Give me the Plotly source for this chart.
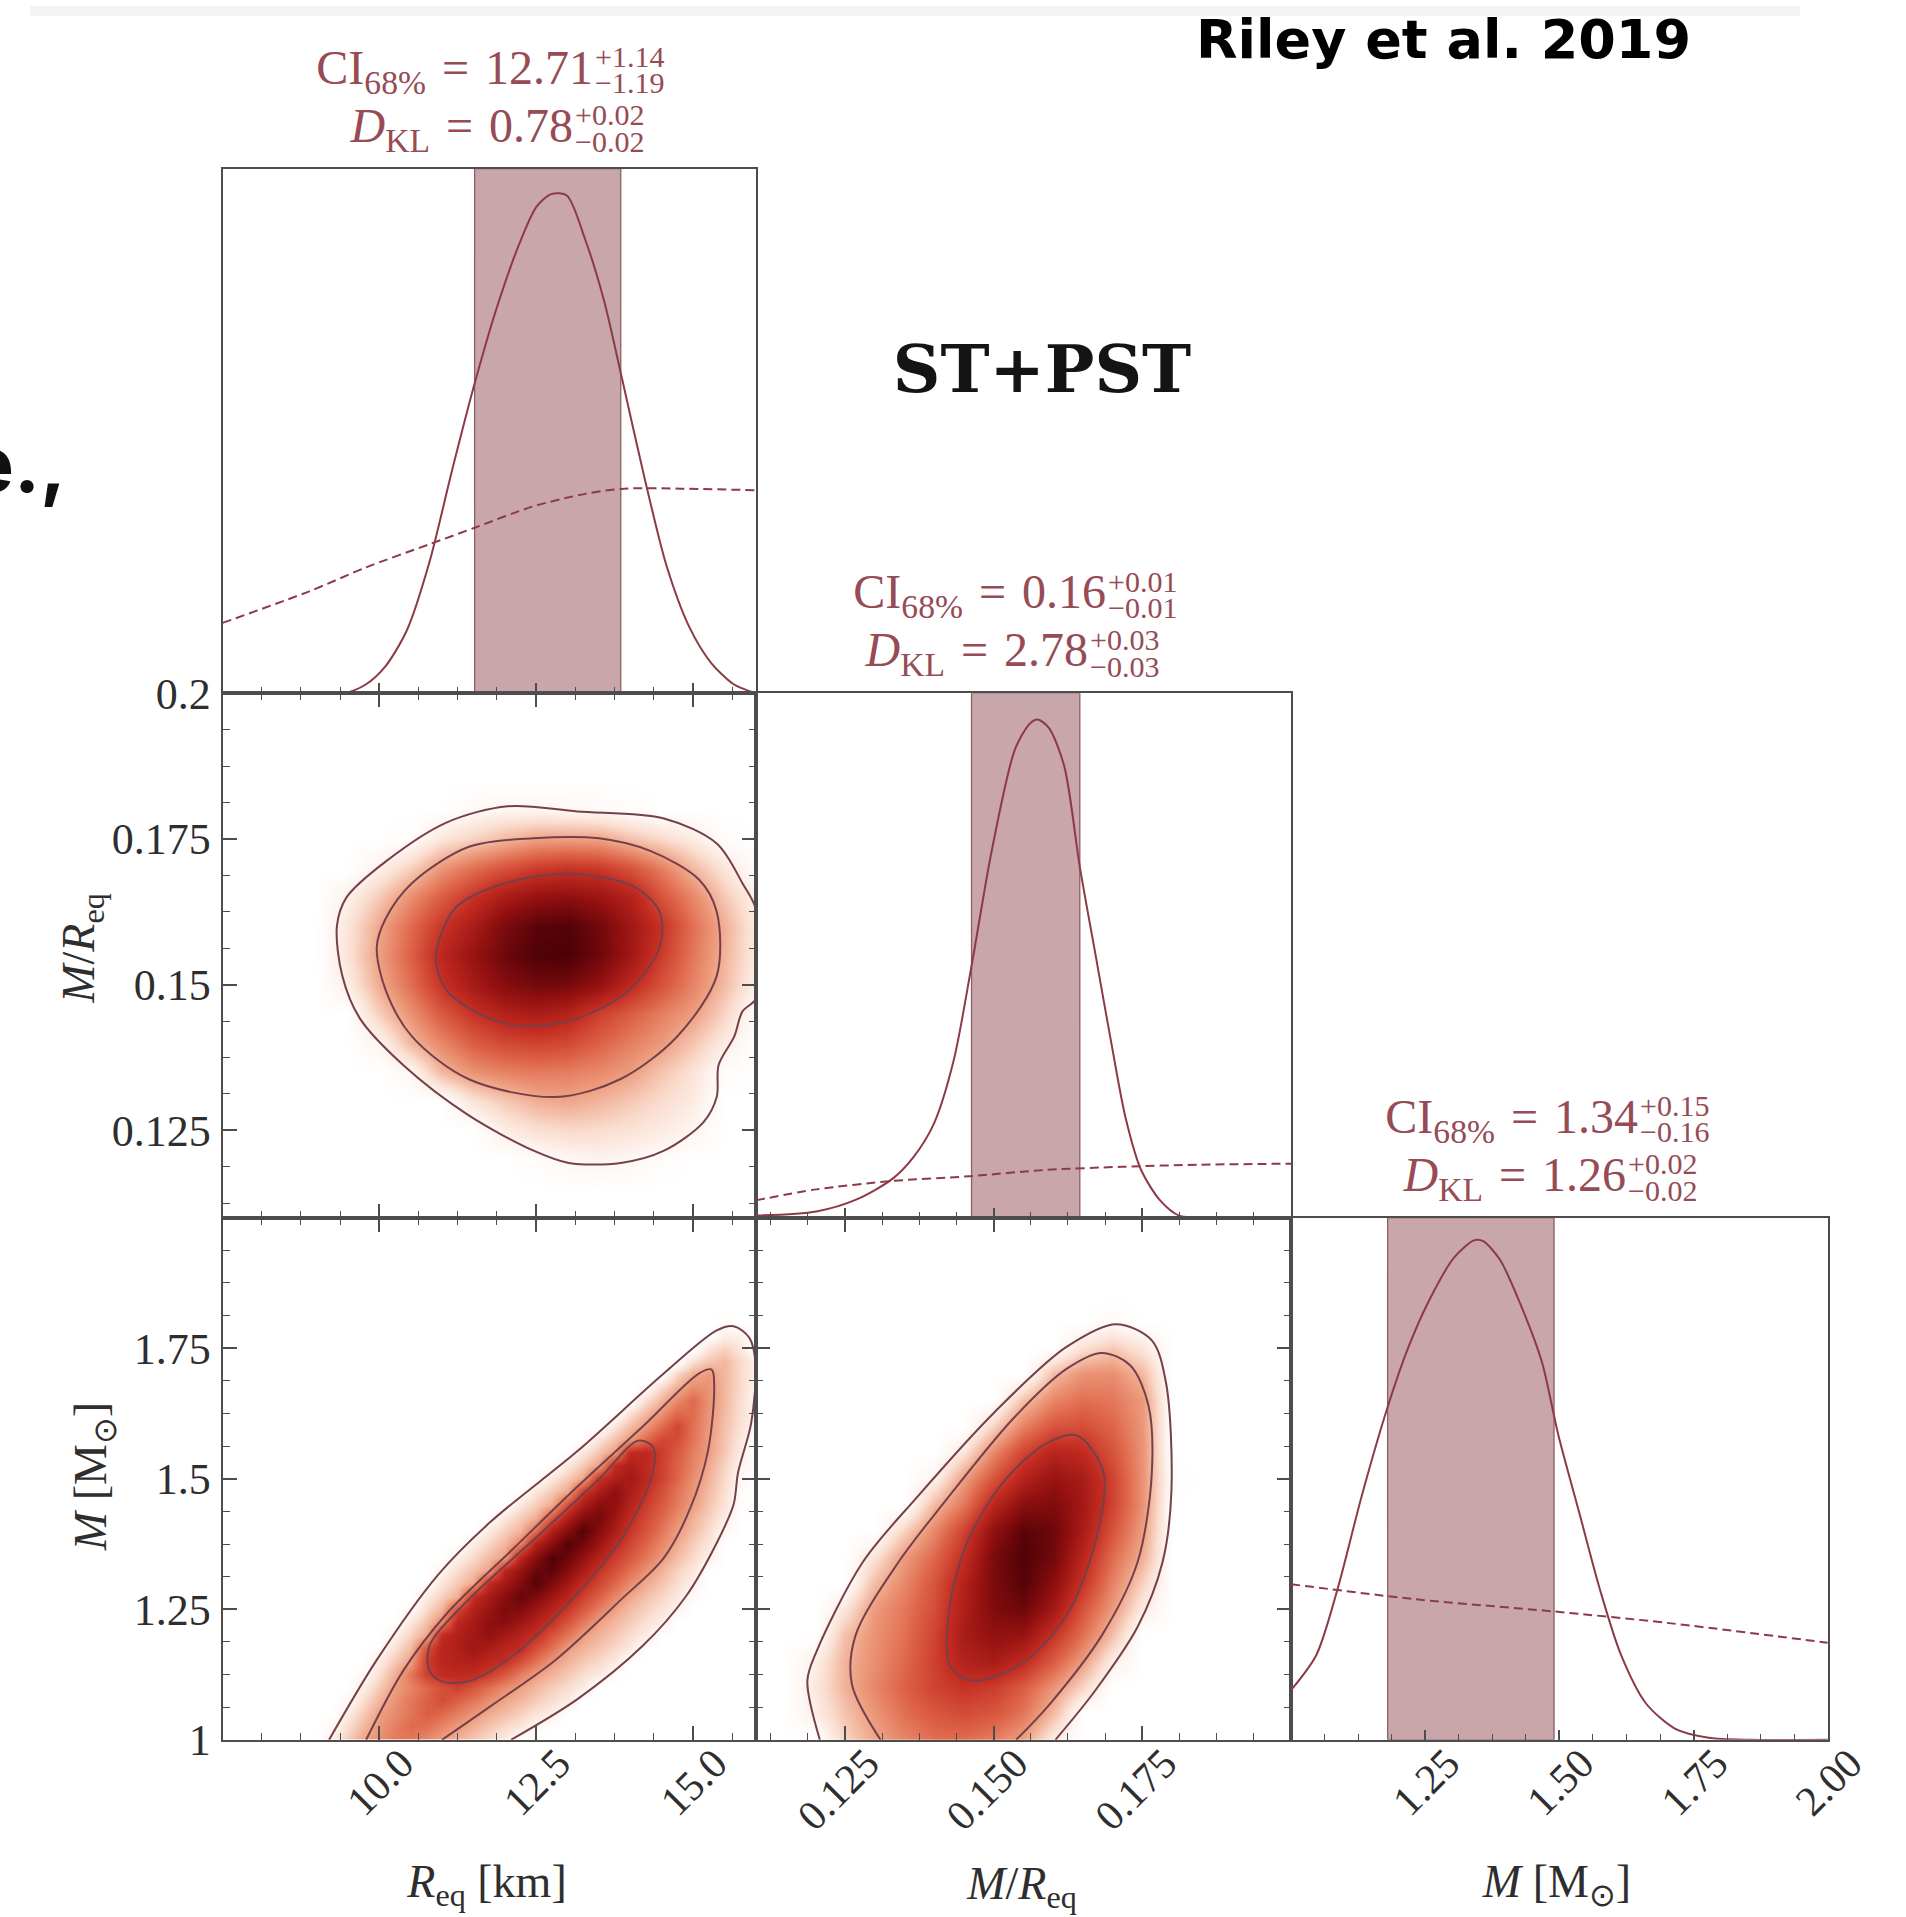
import plotly.graph_objects as go

W, H = 1906, 1917
SERIF = "Liberation Serif"

# ---------------- axis ranges and tick labels ----------------
R_RANGE = [7.5, 16.0]
C_RANGE = [0.11, 0.20]
M_RANGE = [1.0, 2.0]

R_TICKS = [10.0, 12.5, 15.0]
R_TICKTEXT = ["10.0", "12.5", "15.0"]
C_TICKS_X = [0.125, 0.150, 0.175]
C_TICKTEXT_X = ["0.125", "0.150", "0.175"]
C_TICKS_Y = [0.125, 0.15, 0.175, 0.2]
C_TICKTEXT_Y = ["0.125", "0.15", "0.175", "0.2"]
M_TICKS_X = [1.25, 1.5, 1.75, 2.0]
M_TICKTEXT_X = ["1.25", "1.50", "1.75", "2.00"]
M_TICKS_Y = [1.0, 1.25, 1.5, 1.75]
M_TICKTEXT_Y = ["1", "1.25", "1.5", "1.75"]

# ---------------- 1-D marginal posteriors (solid) and priors (dashed) ----------------
R_POST_X = [7.5, 8.5, 9.44, 9.79, 10.09, 10.44, 10.8, 11.15, 11.51, 11.86, 12.22, 12.51, 12.75,
            12.99, 13.28, 13.58, 13.87, 14.23, 14.58, 14.94, 15.29, 15.65, 16.0]
R_POST_Y = [0.0, 0.0, 0.0, 0.017, 0.05, 0.12, 0.25, 0.42, 0.586, 0.73, 0.853, 0.928, 0.952,
            0.949, 0.866, 0.75, 0.6, 0.41, 0.243, 0.127, 0.058, 0.017, 0.0]
R_PRIOR_X = [7.5, 8.9, 9.79, 10.8, 11.51, 12.45, 13.28, 13.9, 14.8, 16.0]
R_PRIOR_Y = [0.134, 0.195, 0.24, 0.284, 0.315, 0.356, 0.38, 0.39, 0.39, 0.387]

C_POST_X = [0.11, 0.1202, 0.127, 0.133, 0.1365, 0.14, 0.1433, 0.1463, 0.1497, 0.1536, 0.1561,
            0.1574, 0.1593, 0.1619, 0.1645, 0.1671, 0.1697, 0.1722, 0.1748, 0.178, 0.1812, 0.19, 0.2]
C_POST_Y = [0.004, 0.012, 0.035, 0.074, 0.115, 0.18, 0.3, 0.48, 0.7, 0.893, 0.942, 0.95,
            0.934, 0.86, 0.669, 0.504, 0.339, 0.19, 0.091, 0.033, 0.004, 0.0, 0.0]
C_PRIOR_X = [0.11, 0.1202, 0.133, 0.1459, 0.1587, 0.1715, 0.1844, 0.2]
C_PRIOR_Y = [0.033, 0.054, 0.07, 0.079, 0.091, 0.097, 0.101, 0.103]

M_POST_X = [1.0, 1.047, 1.086, 1.132, 1.179, 1.218, 1.257, 1.304, 1.342, 1.358, 1.389, 1.428,
            1.467, 1.498, 1.537, 1.576, 1.615, 1.661, 1.716, 1.778, 1.856, 2.0]
M_POST_Y = [0.095, 0.162, 0.286, 0.468, 0.634, 0.75, 0.841, 0.924, 0.957, 0.955, 0.92, 0.833,
            0.725, 0.584, 0.435, 0.286, 0.162, 0.07, 0.021, 0.004, 0.0, 0.0]
M_PRIOR_X = [1.0, 1.233, 1.488, 1.7, 2.0]
M_PRIOR_Y = [0.298, 0.269, 0.246, 0.224, 0.186]

# ---------------- credible intervals and KL divergences ----------------
CI_MEDIAN = [12.71, 0.1554, 1.34]
CI_PLUS = [1.14, 0.0091, 0.15]
CI_MINUS = [1.19, 0.0091, 0.16]
DKL = [0.78, 2.78, 1.26]
DKL_PLUS = [0.02, 0.03, 0.02]
DKL_MINUS = [0.02, 0.03, 0.02]

# ---------------- 2-D posterior density (relative) ----------------
GRID_R = [8.5, 9.0, 9.5, 10.0, 10.5, 11.0, 11.5, 12.0, 12.5, 13.0, 13.5, 14.0, 14.5, 15.0, 15.5, 16.0]
GRID_C_Y = [0.115, 0.12, 0.125, 0.13, 0.135, 0.14, 0.145, 0.15, 0.155, 0.16, 0.165, 0.17, 0.175,
            0.18, 0.185]
GRID_C_X = [0.115, 0.12, 0.125, 0.13, 0.135, 0.14, 0.145, 0.15, 0.155, 0.16, 0.165, 0.17, 0.175,
            0.18, 0.185]
GRID_M = [1.0, 1.05, 1.1, 1.15, 1.2, 1.25, 1.3, 1.35, 1.4, 1.45, 1.5, 1.55, 1.6, 1.65, 1.7, 1.75,
          1.8, 1.85]
GRID_R_FINE = [9.0, 9.25, 9.5, 9.75, 10.0, 10.25, 10.5, 10.75, 11.0, 11.25, 11.5, 11.75, 12.0,
               12.25, 12.5, 12.75, 13.0, 13.25, 13.5, 13.75, 14.0, 14.25, 14.5, 14.75, 15.0, 15.25,
               15.5, 15.75, 16.0]
GRID_M_FINE = [1.0, 1.025, 1.05, 1.075, 1.1, 1.125, 1.15, 1.175, 1.2, 1.225, 1.25, 1.275, 1.3,
               1.325, 1.35, 1.375, 1.4, 1.425, 1.45, 1.475, 1.5, 1.525, 1.55, 1.575, 1.6, 1.625,
               1.65, 1.675, 1.7, 1.725, 1.75, 1.775, 1.8, 1.825]

# radius (columns) vs compactness (rows)
Z_RC = [
    [0, 0, 0, 0, 0, 0, 0, 0, 0, 0, 0, 0, 0, 0, 0, 0],
    [0, 0, 0, 0, 0, 0, 0, 0, 0.02, 0.05, 0.07, 0.05, 0.02, 0, 0, 0],
    [0, 0, 0, 0, 0, 0, 0, 0.09, 0.14, 0.16, 0.15, 0.13, 0.1, 0.06, 0, 0],
    [0, 0, 0, 0, 0, 0, 0.13, 0.2, 0.26, 0.28, 0.25, 0.2, 0.15, 0.1, 0, 0],
    [0, 0, 0, 0, 0.05, 0.24, 0.33, 0.37, 0.39, 0.38, 0.35, 0.3, 0.21, 0.13, 0.02, 0],
    [0, 0, 0, 0.06, 0.24, 0.36, 0.47, 0.53, 0.55, 0.53, 0.46, 0.38, 0.31, 0.21, 0.1, 0],
    [0, 0, 0, 0.19, 0.33, 0.48, 0.6, 0.68, 0.71, 0.67, 0.56, 0.47, 0.38, 0.3, 0.17, 0.02],
    [0, 0, 0.09, 0.27, 0.42, 0.6, 0.73, 0.83, 0.88, 0.87, 0.79, 0.64, 0.5, 0.37, 0.23, 0.08],
    [0, 0, 0.13, 0.3, 0.46, 0.65, 0.78, 0.9, 0.98, 0.99, 0.9, 0.75, 0.57, 0.4, 0.25, 0.1],
    [0, 0, 0.12, 0.28, 0.43, 0.59, 0.72, 0.86, 0.95, 0.97, 0.89, 0.75, 0.6, 0.42, 0.26, 0.1],
    [0, 0, 0.08, 0.2, 0.34, 0.47, 0.6, 0.72, 0.79, 0.81, 0.77, 0.68, 0.5, 0.36, 0.2, 0.08],
    [0, 0, 0, 0.08, 0.18, 0.32, 0.42, 0.5, 0.57, 0.6, 0.58, 0.5, 0.38, 0.24, 0.12, 0.02],
    [0, 0, 0, 0, 0.02, 0.12, 0.18, 0.24, 0.29, 0.3, 0.29, 0.22, 0.16, 0.1, 0.02, 0],
    [0, 0, 0, 0, 0, 0, 0.04, 0.06, 0.06, 0.05, 0.04, 0.02, 0, 0, 0, 0],
    [0, 0, 0, 0, 0, 0, 0, 0, 0, 0, 0, 0, 0, 0, 0, 0],
]

# radius (columns, fine grid) vs mass (rows, fine grid)
Z_RM = [
    [0, 0.10, 0.19, 0.29, 0.34, 0.39, 0.40, 0.35, 0.30, 0.25, 0.20, 0.15, 0.10] + [0] * 16,
    [0, 0.04, 0.15, 0.24, 0.32, 0.38, 0.43, 0.42, 0.36, 0.31, 0.26, 0.21, 0.16, 0.12, 0.05] + [0] * 14,
    [0, 0, 0.10, 0.20, 0.30, 0.35, 0.41, 0.47, 0.44, 0.38, 0.32, 0.27, 0.23, 0.18, 0.13, 0.09] + [0] * 13,
    [0, 0, 0.04, 0.15, 0.25, 0.33, 0.40, 0.46, 0.52, 0.46, 0.40, 0.34, 0.28, 0.24, 0.19, 0.15,
     0.10] + [0] * 12,
    [0, 0, 0, 0.10, 0.20, 0.30, 0.37, 0.44, 0.51, 0.56, 0.49, 0.42, 0.35, 0.29, 0.24, 0.19, 0.15,
     0.10] + [0] * 11,
    [0, 0, 0, 0.03, 0.15, 0.26, 0.40, 0.56, 0.63, 0.64, 0.63, 0.57, 0.48, 0.38, 0.30, 0.25, 0.20,
     0.15, 0.11, 0.02] + [0] * 9,
    [0, 0, 0, 0, 0.10, 0.20, 0.30, 0.57, 0.65, 0.68, 0.69, 0.65, 0.61, 0.51, 0.41, 0.31, 0.25,
     0.20, 0.16, 0.11] + [0] * 9,
    [0, 0, 0, 0, 0.03, 0.14, 0.24, 0.51, 0.66, 0.70, 0.75, 0.71, 0.66, 0.62, 0.51, 0.41, 0.30,
     0.25, 0.21, 0.16, 0.11] + [0] * 8,
    [0, 0, 0, 0, 0, 0.08, 0.18, 0.28, 0.63, 0.69, 0.75, 0.79, 0.73, 0.67, 0.61, 0.50, 0.40, 0.30,
     0.25, 0.20, 0.15, 0.10] + [0] * 7,
    [0, 0, 0, 0, 0, 0, 0.12, 0.22, 0.36, 0.66, 0.73, 0.81, 0.82, 0.75, 0.68, 0.60, 0.49, 0.39,
     0.29, 0.24, 0.19, 0.14, 0.09] + [0] * 6,
    [0, 0, 0, 0, 0, 0, 0.03, 0.16, 0.25, 0.53, 0.69, 0.77, 0.86, 0.84, 0.76, 0.67, 0.58, 0.48,
     0.38, 0.29, 0.23, 0.18, 0.13, 0.07] + [0] * 5,
    [0, 0, 0, 0, 0, 0, 0, 0.10, 0.18, 0.26, 0.63, 0.72, 0.82, 0.91, 0.85, 0.76, 0.66, 0.56, 0.46,
     0.36, 0.28, 0.22, 0.17, 0.11, 0.03] + [0] * 4,
    [0] * 8 + [0.13, 0.20, 0.28, 0.64, 0.74, 0.85, 0.96, 0.85, 0.74, 0.63, 0.54, 0.44, 0.35, 0.27,
               0.21, 0.15, 0.08] + [0] * 4,
    [0] * 8 + [0.06, 0.15, 0.22, 0.29, 0.66, 0.78, 0.91, 0.94, 0.83, 0.71, 0.60, 0.51, 0.42, 0.33,
               0.25, 0.18, 0.12] + [0] * 4,
    [0] * 9 + [0.09, 0.16, 0.23, 0.30, 0.67, 0.82, 0.97, 0.91, 0.79, 0.68, 0.57, 0.49, 0.40, 0.31,
               0.23, 0.16, 0.08] + [0] * 3,
    [0] * 10 + [0.10, 0.17, 0.24, 0.37, 0.68, 0.82, 0.96, 0.89, 0.77, 0.64, 0.54, 0.45, 0.36,
                0.27, 0.19, 0.12] + [0] * 3,
    [0] * 11 + [0.11, 0.18, 0.25, 0.42, 0.69, 0.83, 0.96, 0.83, 0.71, 0.59, 0.50, 0.40, 0.31,
                0.23, 0.15, 0.05] + [0] * 2,
    [0] * 12 + [0.12, 0.19, 0.26, 0.48, 0.70, 0.83, 0.88, 0.76, 0.63, 0.53, 0.44, 0.35, 0.26,
                0.18, 0.10] + [0] * 2,
    [0] * 13 + [0.12, 0.19, 0.27, 0.52, 0.71, 0.82, 0.80, 0.68, 0.57, 0.48, 0.39, 0.30, 0.21,
                0.13, 0.03] + [0],
    [0] * 14 + [0.12, 0.20, 0.28, 0.57, 0.71, 0.81, 0.71, 0.61, 0.51, 0.41, 0.32, 0.23, 0.14,
                0.03] + [0],
    [0] * 15 + [0.12, 0.20, 0.28, 0.60, 0.70, 0.74, 0.65, 0.55, 0.45, 0.34, 0.25, 0.16, 0.05] + [0],
    [0] * 16 + [0.12, 0.20, 0.29, 0.63, 0.70, 0.64, 0.56, 0.46, 0.37, 0.27, 0.17, 0.08] + [0],
    [0] * 17 + [0.12, 0.21, 0.30, 0.63, 0.65, 0.57, 0.48, 0.38, 0.30, 0.20, 0.10] + [0],
    [0] * 18 + [0.13, 0.22, 0.31, 0.43, 0.54, 0.52, 0.41, 0.30, 0.21, 0.12] + [0],
    [0] * 19 + [0.13, 0.23, 0.32, 0.43, 0.54, 0.42, 0.31, 0.22, 0.14, 0.05],
    [0] * 20 + [0.14, 0.24, 0.33, 0.44, 0.43, 0.32, 0.23, 0.15, 0.06],
    [0] * 21 + [0.15, 0.25, 0.35, 0.44, 0.33, 0.24, 0.15, 0.06],
    [0] * 21 + [0.03, 0.16, 0.26, 0.35, 0.33, 0.24, 0.16, 0.06],
    [0] * 23 + [0.17, 0.27, 0.31, 0.24, 0.16, 0.08],
    [0] * 24 + [0.14, 0.21, 0.24, 0.16, 0.08],
    [0] * 25 + [0.13, 0.18, 0.12, 0],
    [0] * 26 + [0.09, 0.08, 0],
    [0] * 26 + [0.02, 0, 0],
    [0] * 29,
]
assert len(Z_RM) == len(GRID_M_FINE) and all(len(r) == len(GRID_R_FINE) for r in Z_RM)

# compactness (columns) vs mass (rows)
Z_CM = [
    [0, 0, 0.17, 0.28, 0.36, 0.42, 0.43, 0.38, 0.29, 0.09, 0, 0, 0, 0, 0],
    [0, 0.09, 0.21, 0.32, 0.42, 0.49, 0.52, 0.49, 0.4, 0.23, 0, 0, 0, 0, 0],
    [0, 0.11, 0.25, 0.36, 0.46, 0.55, 0.6, 0.57, 0.47, 0.32, 0.17, 0, 0, 0, 0],
    [0, 0.09, 0.25, 0.34, 0.44, 0.56, 0.68, 0.72, 0.63, 0.47, 0.3, 0.09, 0, 0, 0],
    [0, 0, 0.22, 0.33, 0.42, 0.55, 0.72, 0.8, 0.78, 0.6, 0.42, 0.22, 0, 0, 0],
    [0, 0, 0.12, 0.31, 0.4, 0.52, 0.7, 0.85, 0.9, 0.74, 0.5, 0.31, 0.1, 0, 0],
    [0, 0, 0, 0.23, 0.36, 0.5, 0.68, 0.86, 0.96, 0.82, 0.6, 0.37, 0.18, 0, 0],
    [0, 0, 0, 0.13, 0.31, 0.44, 0.62, 0.86, 0.98, 0.88, 0.66, 0.43, 0.26, 0, 0],
    [0, 0, 0, 0, 0.18, 0.36, 0.55, 0.8, 0.95, 0.9, 0.72, 0.5, 0.3, 0, 0],
    [0, 0, 0, 0, 0, 0.24, 0.4, 0.66, 0.82, 0.85, 0.74, 0.55, 0.33, 0, 0],
    [0, 0, 0, 0, 0, 0.08, 0.3, 0.5, 0.68, 0.78, 0.72, 0.55, 0.33, 0.02, 0],
    [0, 0, 0, 0, 0, 0, 0.13, 0.36, 0.55, 0.67, 0.64, 0.5, 0.33, 0, 0],
    [0, 0, 0, 0, 0, 0, 0, 0.18, 0.38, 0.5, 0.52, 0.45, 0.32, 0, 0],
    [0, 0, 0, 0, 0, 0, 0, 0, 0.22, 0.36, 0.42, 0.4, 0.31, 0, 0],
    [0, 0, 0, 0, 0, 0, 0, 0, 0, 0.23, 0.33, 0.34, 0.24, 0, 0],
    [0, 0, 0, 0, 0, 0, 0, 0, 0, 0, 0.14, 0.2, 0.12, 0, 0],
    [0, 0, 0, 0, 0, 0, 0, 0, 0, 0, 0, 0.03, 0, 0, 0],
    [0, 0, 0, 0, 0, 0, 0, 0, 0, 0, 0, 0, 0, 0, 0],
]

# ---------------- credible-region contours (outer, middle, inner) ----------------
RC_OUTER_X = [12.46, 13.02, 13.85, 14.54, 15.17, 15.38, 15.41, 15.66, 15.79, 16.02, 16.02, 15.79,
              15.38, 14.54, 13.16, 12.05, 11.07, 10.1, 9.48, 9.325, 9.41, 9.69, 10.38, 11.42, 12.46]
RC_OUTER_Y = [0.1215, 0.1194, 0.1194, 0.1215, 0.1264, 0.1307, 0.1362, 0.1411, 0.1454, 0.1478,
              0.1625, 0.1674, 0.1742, 0.1785, 0.1797, 0.1806, 0.1778, 0.1711, 0.165, 0.1601,
              0.1515, 0.1442, 0.1362, 0.1276, 0.1215]
RC_MID_X = [12.81, 13.85, 14.75, 15.38, 15.38, 15.1, 14.33, 13.5, 12.46, 11.42, 10.52, 10.1, 9.96,
            10.1, 10.52, 11.42, 12.81]
RC_MID_Y = [0.1307, 0.1338, 0.1411, 0.1515, 0.1625, 0.168, 0.1729, 0.1751, 0.1751, 0.1736, 0.1674,
            0.1613, 0.1564, 0.1491, 0.1411, 0.1338, 0.1307]
RC_IN_X = [12.25, 13.16, 13.99, 14.47, 14.47, 14.06, 13.02, 11.91, 11.21, 10.9, 11.07, 11.63, 12.25]
RC_IN_Y = [0.1429, 0.1442, 0.1491, 0.1564, 0.1625, 0.1668, 0.169, 0.1671, 0.1631, 0.1546, 0.1491,
           0.1448, 0.1429]

RM_OUTER_X = [9.2, 9.96, 10.93, 11.77, 13.16, 14.54, 15.38, 15.65, 15.9, 16.0, 15.93, 15.72, 15.65,
              15.38, 14.89, 14.2, 13.16, 12.1]
RM_OUTER_Y = [1.0, 1.153, 1.315, 1.417, 1.553, 1.702, 1.784, 1.792, 1.77, 1.72, 1.607, 1.512, 1.451,
              1.377, 1.275, 1.18, 1.078, 1.0]
RM_MID_X = [9.79, 10.38, 11.07, 12.11, 13.16, 14.2, 15.1, 15.3, 15.34, 15.24, 14.96, 14.54, 13.85,
            12.81, 11.77, 11.0]
RM_MID_Y = [1.0, 1.132, 1.241, 1.363, 1.485, 1.6, 1.702, 1.709, 1.675, 1.553, 1.444, 1.349, 1.268,
            1.153, 1.064, 1.0]
RM_IN_X = [12.46, 13.5, 14.13, 14.37, 14.33, 13.85, 13.01, 12.11, 11.42, 11.0, 10.8, 10.8, 11.42, 12.46]
RM_IN_Y = [1.383, 1.499, 1.573, 1.56, 1.499, 1.383, 1.261, 1.159, 1.112, 1.112, 1.132, 1.18, 1.268,
           1.383]

CM_OUTER_X = [0.1208, 0.1187, 0.1202, 0.128, 0.137, 0.1502, 0.1622, 0.1706, 0.1766, 0.179, 0.1799,
              0.1784, 0.1742, 0.167, 0.1604]
CM_OUTER_Y = [1.0, 1.113, 1.168, 1.34, 1.463, 1.628, 1.752, 1.796, 1.765, 1.683, 1.477, 1.34, 1.216,
              1.093, 1.0]
CM_MID_X = [0.131, 0.1262, 0.1268, 0.134, 0.1418, 0.1532, 0.1622, 0.1682, 0.173, 0.176, 0.1766,
            0.1742, 0.1682, 0.1592, 0.1538]
CM_MID_Y = [1.0, 1.106, 1.2, 1.34, 1.456, 1.614, 1.71, 1.741, 1.717, 1.642, 1.511, 1.34, 1.2, 1.065, 1.0]
CM_IN_X = [0.1424, 0.1454, 0.1514, 0.1586, 0.164, 0.1685, 0.167, 0.1622, 0.155, 0.1466, 0.1427, 0.1424]
CM_IN_Y = [1.237, 1.374, 1.49, 1.566, 1.583, 1.511, 1.374, 1.237, 1.148, 1.113, 1.141, 1.237]

# ---------------- styling ----------------
LINE = "#4d4d4d"
CURVE = "#8c3a45"
CONTOUR = "#74404a"
BAND = "#c8a6a9"
BAND_EDGE = "#8e5e64"
LABEL_RED = "#964b55"
TEXT_DARK = "#2e2e2e"
TICK_FONT = dict(family=SERIF, size=42, color=TEXT_DARK)
YTICK_FONT = dict(family=SERIF, size=44, color=TEXT_DARK)
TITLE_FONT = dict(family=SERIF, size=46, color=TEXT_DARK)
CSCALE = [
    [0.00, "rgb(255,255,255)"],
    [0.06, "rgb(254,246,242)"],
    [0.15, "rgb(250,222,208)"],
    [0.30, "rgb(238,158,128)"],
    [0.45, "rgb(222,100,72)"],
    [0.62, "rgb(196,44,34)"],
    [0.80, "rgb(146,16,16)"],
    [1.00, "rgb(72,0,6)"],
]

# panel frames in pixels (left, right) / (top, bottom)
COL_PX = [(222.5, 755.6), (755.6, 1291.0), (1291.0, 1827.8)]
ROW_PX = [(168.7, 693.2), (693.2, 1217.7), (1217.7, 1739.8)]


def dom_x(c):
    a, b = COL_PX[c]
    return [a / W, b / W]


def dom_y(r):
    a, b = ROW_PX[r]
    return [1 - b / H, 1 - a / H]


def minor(d0, dt, ln=7):
    return dict(ticks="inside", ticklen=ln, tickwidth=1.4, tickcolor=LINE, tick0=d0, dtick=dt,
                showgrid=False)


def axis(**kw):
    d = dict(showgrid=False, zeroline=False, showline=True, linecolor=LINE, linewidth=2,
             ticks="inside", tickcolor=LINE, tickwidth=1.6, ticklen=14, tickfont=TICK_FONT,
             tickmode="array", automargin=False)
    d.update(kw)
    return d


fig = go.Figure()

# ---------------- 1-D panels ----------------
one_d = [
    ("x", "y", R_POST_X, R_POST_Y, R_PRIOR_X, R_PRIOR_Y),
    ("x3", "y3", C_POST_X, C_POST_Y, C_PRIOR_X, C_PRIOR_Y),
    ("x6", "y6", M_POST_X, M_POST_Y, M_PRIOR_X, M_PRIOR_Y),
]
for k, (xa, ya, pxs, pys, qxs, qys) in enumerate(one_d):
    lo = CI_MEDIAN[k] - CI_MINUS[k]
    hi = CI_MEDIAN[k] + CI_PLUS[k]
    fig.add_trace(go.Scatter(x=[lo, lo, hi, hi, lo], y=[0, 1, 1, 0, 0], mode="lines", fill="toself",
                             fillcolor=BAND, line=dict(color=BAND_EDGE, width=1.3),
                             xaxis=xa, yaxis=ya, hoverinfo="skip", showlegend=False))
    fig.add_trace(go.Scatter(x=qxs, y=qys, mode="lines",
                             line=dict(color=CURVE, width=2, dash="9px,5px", shape="spline", smoothing=0.8),
                             xaxis=xa, yaxis=ya, hoverinfo="skip", showlegend=False))
    fig.add_trace(go.Scatter(x=pxs, y=pys, mode="lines",
                             line=dict(color=CURVE, width=2, shape="spline", smoothing=0.8),
                             xaxis=xa, yaxis=ya, hoverinfo="skip", showlegend=False))

# ---------------- 2-D panels ----------------
two_d = [
    ("x2", "y2", GRID_R, GRID_C_Y, Z_RC,
     [(RC_OUTER_X, RC_OUTER_Y), (RC_MID_X, RC_MID_Y), (RC_IN_X, RC_IN_Y)]),
    ("x4", "y4", GRID_R_FINE, GRID_M_FINE, Z_RM,
     [(RM_OUTER_X, RM_OUTER_Y), (RM_MID_X, RM_MID_Y), (RM_IN_X, RM_IN_Y)]),
    ("x5", "y5", GRID_C_X, GRID_M, Z_CM,
     [(CM_OUTER_X, CM_OUTER_Y), (CM_MID_X, CM_MID_Y), (CM_IN_X, CM_IN_Y)]),
]
for xa, ya, gx, gy, z, lines in two_d:
    fig.add_trace(go.Heatmap(x=gx, y=gy, z=z, zsmooth="best", colorscale=CSCALE, zmin=0, zmax=1,
                             showscale=False, xaxis=xa, yaxis=ya, hoverinfo="skip"))
    for cx, cy in lines:
        fig.add_trace(go.Scatter(x=cx, y=cy, mode="lines",
                                 line=dict(color=CONTOUR, width=2, shape="spline", smoothing=0.9),
                                 xaxis=xa, yaxis=ya, hoverinfo="skip", showlegend=False))

# ---------------- free text, placed on a full-figure pixel frame (x7 / y7) ----------------
def add_text(items, font):
    """items: list of (x_px, y_px, text, textposition)."""
    fig.add_trace(go.Scatter(
        x=[it[0] for it in items], y=[it[1] for it in items], text=[it[2] for it in items],
        textposition=[it[3] for it in items], mode="text", textfont=font, cliponaxis=False,
        xaxis="x7", yaxis="y7", hoverinfo="skip", showlegend=False))


EQ = "\u2004=\u2004"
HEAD_SPLIT = [(593, 573), (1106, 1088), (1638, 1626)]
main_items, small_items = [], []
for k in range(3):
    top = ROW_PX[k][0]
    s1, s2 = HEAD_SPLIT[k]
    main_items += [
        (s1, top - 97, f"CI<sub>68%</sub>{EQ}{CI_MEDIAN[k]:.2f}", "middle left"),
        (s2, top - 39, f"<i>D</i><sub>KL</sub>{EQ}{DKL[k]:.2f}", "middle left"),
    ]
    small_items += [
        (s1 + 2, top - 109, f"+{CI_PLUS[k]:.2f}", "middle right"),
        (s1 + 2, top - 83, f"\u2212{CI_MINUS[k]:.2f}", "middle right"),
        (s2 + 2, top - 51, f"+{DKL_PLUS[k]:.2f}", "middle right"),
        (s2 + 2, top - 24, f"\u2212{DKL_MINUS[k]:.2f}", "middle right"),
    ]
add_text(main_items, dict(family=SERIF, size=48, color=LABEL_RED))
add_text(small_items, dict(family=SERIF, size=30, color=LABEL_RED))

add_text([
    (487, 1885, "<i>R</i><sub>eq</sub> [km]", "middle center"),
    (1022, 1887, "<i>M</i>/<i>R</i><sub>eq</sub>", "middle center"),
    (1557, 1885, "<i>M</i> [M<sub>\u2299</sub>]", "middle center"),
], TITLE_FONT)
add_text([(1196, 44, "<b>Riley et al. 2019</b>", "middle right")],
         dict(family="DejaVu Sans", size=54, color="#000000"))
add_text([(1042, 375, "<b>ST+PST</b>", "middle center")],
         dict(family="DejaVu Serif", size=66, color="#141414"))
add_text([(66, 472, "<b>e.,</b>", "middle left")],
         dict(family="Inter", size=78, color="#111111"))

# rotated y labels: titles of two line-less axes placed left of the tick labels
fig.add_trace(go.Scatter(x=[None], y=[None], xaxis="x7", yaxis="y8", showlegend=False,
                         hoverinfo="skip"))
fig.add_trace(go.Scatter(x=[None], y=[None], xaxis="x7", yaxis="y9", showlegend=False,
                         hoverinfo="skip"))


def label_axis(center_px, pos_px, text):
    return dict(domain=[1 - (center_px + 150) / H, 1 - (center_px - 150) / H], anchor="free",
                position=pos_px / W, range=[0, 1], showline=False, ticks="", showticklabels=False,
                showgrid=False, zeroline=False, automargin=False, fixedrange=True,
                title=dict(text=text, font=TITLE_FONT, standoff=0))


# ---------------- axes ----------------
y1d = dict(showgrid=False, zeroline=False, showline=True, linecolor=LINE, linewidth=2, mirror=True,
           ticks="", showticklabels=False, range=[0, 1], automargin=False)
xlab = dict(tickangle=-45, ticklabelshift=22, ticklabelstandoff=-20)
ylab = dict(ticklabelstandoff=1, tickfont=YTICK_FONT)

fig.update_layout(
    xaxis=axis(domain=dom_x(0), anchor="y", range=R_RANGE, tickvals=R_TICKS, showticklabels=False,
               mirror=True, ticklen=10, minor=minor(10, 0.625, 6)),
    yaxis=dict(domain=dom_y(0), anchor="x", **y1d),
    xaxis2=axis(domain=dom_x(0), anchor="y2", range=R_RANGE, tickvals=R_TICKS, showticklabels=False,
                mirror="ticks", minor=minor(10, 0.625)),
    yaxis2=axis(domain=dom_y(1), anchor="x2", range=C_RANGE, tickvals=C_TICKS_Y, ticktext=C_TICKTEXT_Y,
                mirror="ticks", minor=minor(0.125, 0.00625), **ylab),
    xaxis3=axis(domain=dom_x(1), anchor="y3", range=C_RANGE, tickvals=C_TICKS_X, showticklabels=False,
                mirror=True, ticklen=10, minor=minor(0.125, 0.00625, 6)),
    yaxis3=dict(domain=dom_y(1), anchor="x3", **y1d),
    xaxis4=axis(domain=dom_x(0), anchor="y4", range=R_RANGE, tickvals=R_TICKS, ticktext=R_TICKTEXT,
                mirror="ticks", minor=minor(10, 0.625), **xlab),
    yaxis4=axis(domain=dom_y(2), anchor="x4", range=M_RANGE, tickvals=M_TICKS_Y, ticktext=M_TICKTEXT_Y,
                mirror="ticks", minor=minor(1.0, 0.0625), **ylab),
    xaxis5=axis(domain=dom_x(1), anchor="y5", range=C_RANGE, tickvals=C_TICKS_X, ticktext=C_TICKTEXT_X,
                mirror="ticks", minor=minor(0.125, 0.00625), **xlab),
    yaxis5=axis(domain=dom_y(2), anchor="x5", range=M_RANGE, tickvals=M_TICKS_Y, showticklabels=False,
                mirror="ticks", minor=minor(1.0, 0.0625)),
    xaxis6=axis(domain=dom_x(2), anchor="y6", range=M_RANGE, tickvals=M_TICKS_X, ticktext=M_TICKTEXT_X,
                mirror=True, ticklen=10, minor=minor(1.0, 0.0625, 6), **xlab),
    yaxis6=dict(domain=dom_y(2), anchor="x6", **y1d),
    xaxis7=dict(domain=[0, 1], range=[0, W], visible=False, fixedrange=True, anchor="y7"),
    yaxis7=dict(domain=[0, 1], range=[H, 0], visible=False, fixedrange=True, anchor="x7"),
    yaxis8=label_axis(948, 111, "<i>M</i>/<i>R</i><sub>eq</sub>"),
    yaxis9=label_axis(1476, 123, "<i>M</i> [M<sub>\u2299</sub>]"),
)

fig.update_layout(
    template="none",
    width=W, height=H, autosize=False,
    margin=dict(l=0, r=0, t=0, b=0, pad=0, autoexpand=False),
    paper_bgcolor="white", plot_bgcolor="rgba(0,0,0,0)",
    showlegend=False,
    shapes=[dict(type="rect", xref="paper", yref="paper", x0=30 / W, x1=1800 / W, y0=1 - 16 / H,
                 y1=1 - 6 / H, fillcolor="#f3f3f3", line=dict(width=0), layer="below")],
    font=dict(family=SERIF),
)

fig.write_html("out.html")
